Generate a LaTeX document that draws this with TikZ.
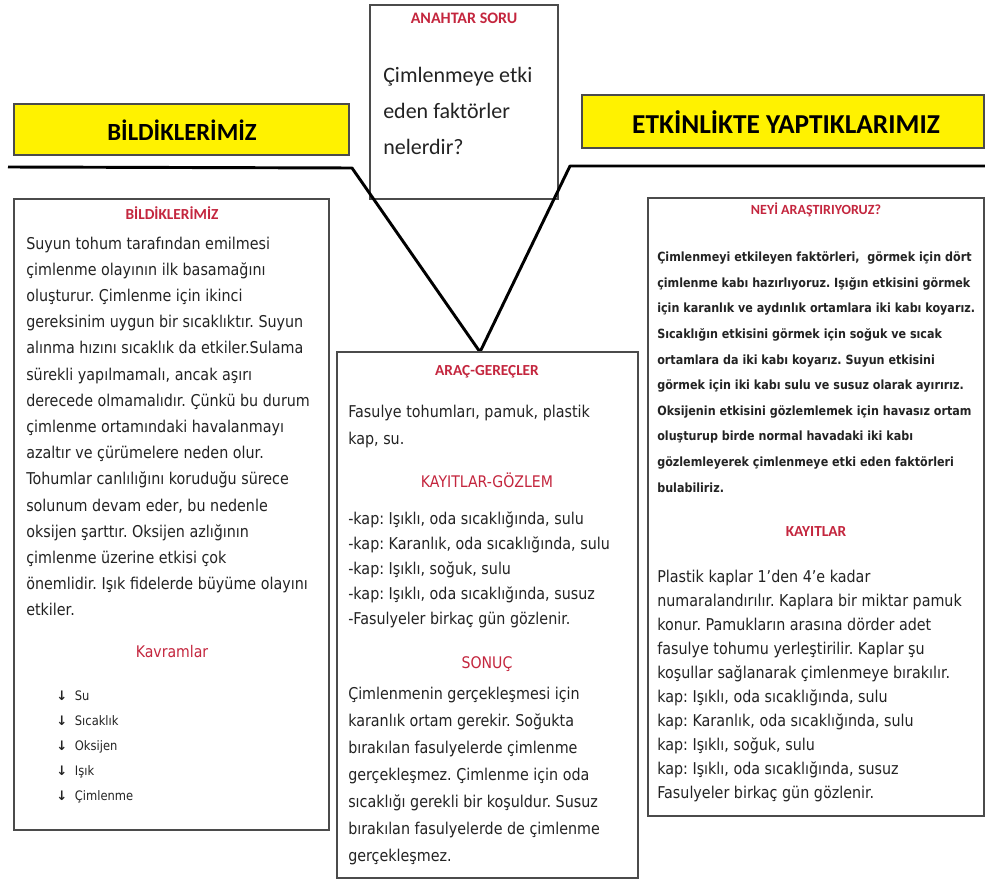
\documentclass[tikz,border=0pt]{standalone}
\usepackage{fontspec}
\setmainfont{Carlito}
\newfontfamily\bodyfont[FakeStretch=0.88]{DejaVu Sans}
\newfontfamily\arrowfont{DejaVu Sans}
\usepackage{xcolor}
\definecolor{hdrred}{RGB}{196,38,62}
\definecolor{framegray}{RGB}{75,75,75}
\definecolor{inkgray}{RGB}{35,35,35}
\newcommand\kbul{\makebox[14pt][l]{\arrowfont\bfseries ↓}}
\frenchspacing

\begin{document}
\begin{tikzpicture}[x=0.75pt,y=-0.75pt,
    panel/.style={draw=framegray,line width=1.1pt,fill=white},
    banner/.style={draw=framegray,line width=1.3pt,fill=yellow},
    bannertext/.style={inner sep=0pt,text=black,font=\bfseries\fontsize{#1}{22}\selectfont},
    redhead/.style={inner sep=0pt,text=hdrred,font=\bfseries\fontsize{#1}{14}\selectfont},
    redbody/.style={inner sep=0pt,text=hdrred,font=\bodyfont\fontsize{12}{14}\selectfont},
    bodytext/.style={anchor=west,align=left,inner sep=0pt,text=inkgray,
      font=\bodyfont\fontsize{12.2}{#1}\selectfont},
    spine/.style={line width=2.2pt,line join=round}]
    \useasboundingbox (0,0) rectangle (985,884);

    % banners and the main line
    \draw[banner] (14,104) rectangle (349,155);
    \node[bannertext=18.5] (bildtitle) at (182,130) {BİLDİKLERİMİZ};
    \draw[banner] (582,95) rectangle (984,148);
    \node[bannertext=20.5] (etktitle) at (786,122) {ETKİNLİKTE YAPTIKLARIMIZ};

    \coordinate (lend) at (8,167);
    \coordinate (lknee) at (352,168);
    \coordinate (rknee) at (570,166);
    \coordinate (rend) at (985,166);
    \coordinate (apex) at (480,352);

    % key question
    \draw[panel] (370,5) rectangle (558,199);
    \node[redhead=12] (keyhead) at (464,18) {ANAHTAR SORU};
    \node[anchor=west,align=left,inner sep=0pt,text=inkgray,
      font=\fontsize{16.5}{27}\selectfont] (keyq) at (383,111)
      {Çimlenmeye etki\\eden faktörler\\nelerdir?};

    \draw[spine] (lend) -- (lknee) -- (apex) -- (rknee) -- (rend);

    % left panel
    \draw[panel] (14,199) rectangle (329,830);
    \node[redhead=11.5] (lhead) at (172,213) {BİLDİKLERİMİZ};
    \node[bodytext=19.65] (lbody) at (26,426.5) {Suyun tohum tarafından emilmesi\\
      çimlenme olayının ilk basamağını\\
      oluşturur. Çimlenme için ikinci\\
      gereksinim uygun bir sıcaklıktır. Suyun\\
      alınma hızını sıcaklık da etkiler.Sulama\\
      sürekli yapılmamalı, ancak aşırı\\
      derecede olmamalıdır. Çünkü bu durum\\
      çimlenme ortamındaki havalanmayı\\
      azaltır ve çürümelere neden olur.\\
      Tohumlar canlılığını koruduğu sürece\\
      solunum devam eder, bu nedenle\\
      oksijen şarttır. Oksijen azlığının\\
      çimlenme üzerine etkisi çok\\
      önemlidir. Işık fidelerde büyüme olayını\\
      etkiler.};
    \node[redbody] (kavram) at (172,652) {Kavramlar};
    \node[anchor=west,align=left,inner sep=0pt,text=inkgray,
      font=\bodyfont\fontsize{9.8}{18.75}\selectfont] (kavlist) at (56,747)
      {\kbul Su\\ \kbul Sıcaklık\\ \kbul Oksijen\\ \kbul Işık\\ \kbul Çimlenme};

    % middle panel
    \draw[panel] (337,352) rectangle (638,878);
    \node[redhead=11.5] (arachead) at (487,372) {ARAÇ-GEREÇLER};
    \node[bodytext=20.25] (arac) at (348,426.5) {Fasulye tohumları, pamuk, plastik\\kap, su.};
    \node[redbody] (gozhead) at (487,480) {KAYITLAR-GÖZLEM};
    \node[bodytext=18.75] (gozlem) at (348,570) {-kap: Işıklı, oda sıcaklığında, sulu\\
      -kap: Karanlık, oda sıcaklığında, sulu\\
      -kap: Işıklı, soğuk, sulu\\
      -kap: Işıklı, oda sıcaklığında, susuz\\
      -Fasulyeler birkaç gün gözlenir.};
    \node[redbody] (sonhead) at (487,664) {SONUÇ};
    \node[bodytext=20.25] (sonuc) at (348,776) {Çimlenmenin gerçekleşmesi için\\
      karanlık ortam gerekir. Soğukta\\
      bırakılan fasulyelerde çimlenme\\
      gerçekleşmez. Çimlenme için oda\\
      sıcaklığı gerekli bir koşuldur. Susuz\\
      bırakılan fasulyelerde de çimlenme\\
      gerçekleşmez.};

    % right panel
    \draw[panel] (648,198) rectangle (984,816);
    \node[redhead=10.5] (neyhead) at (816,210) {NEYİ ARAŞTIRIYORUZ?};
    \node[anchor=west,align=left,inner sep=0pt,text=inkgray,
      font=\bodyfont\bfseries\fontsize{9.5}{19.2}\selectfont] (neyi) at (657,372)
      {Çimlenmeyi etkileyen faktörleri,\ \ görmek için dört\\
      çimlenme kabı hazırlıyoruz. Işığın etkisini görmek\\
      için karanlık ve aydınlık ortamlara iki kabı koyarız.\\
      Sıcaklığın etkisini görmek için soğuk ve sıcak\\
      ortamlara da iki kabı koyarız. Suyun etkisini\\
      görmek için iki kabı sulu ve susuz olarak ayırırız.\\
      Oksijenin etkisini gözlemlemek için havasız ortam\\
      oluşturup birde normal havadaki iki kabı\\
      gözlemleyerek çimlenmeye etki eden faktörleri\\
      bulabiliriz.};
    \node[redhead=11.5] (kayhead) at (816,532) {KAYITLAR};
    \node[bodytext=18] (kayit) at (657,686) {Plastik kaplar 1’den 4’e kadar\\
      numaralandırılır. Kaplara bir miktar pamuk\\
      konur. Pamukların arasına dörder adet\\
      fasulye tohumu yerleştirilir. Kaplar şu\\
      koşullar sağlanarak çimlenmeye bırakılır.\\
      kap: Işıklı, oda sıcaklığında, sulu\\
      kap: Karanlık, oda sıcaklığında, sulu\\
      kap: Işıklı, soğuk, sulu\\
      kap: Işıklı, oda sıcaklığında, susuz\\
      Fasulyeler birkaç gün gözlenir.};
  \end{tikzpicture}
\end{document}
